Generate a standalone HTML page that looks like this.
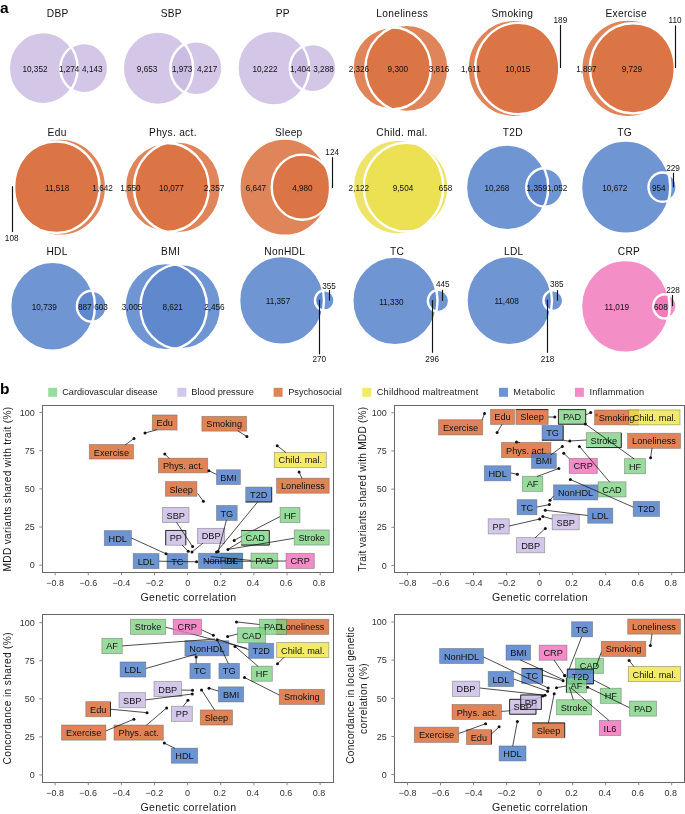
<!DOCTYPE html>
<html><head><meta charset="utf-8"><style>
html,body{margin:0;padding:0;background:#fff;}
svg{display:block;will-change:transform;}
text{font-family:"Liberation Sans", sans-serif;fill:#1a1a1a;}
.vt{font-size:10.2px;text-anchor:middle;letter-spacing:0.3px;fill:#111;}
.vn{font-size:8.2px;text-anchor:middle;fill:#111;}
.pl{font-size:15.5px;font-weight:bold;fill:#000;}
.lg{font-size:9.2px;}
.tk{font-size:9px;fill:#333;}
.ax{font-size:10.6px;letter-spacing:0.38px;}
.ay{font-size:10.2px;}
.bx{font-size:9.2px;fill:#111;}
</style></head><body>
<svg width="685" height="814" viewBox="0 0 685 814">
<defs>
<clipPath id="vc0"><ellipse cx="43.23" cy="68.15" rx="34.43" ry="36.05"/></clipPath>
<clipPath id="vc1"><ellipse cx="157.98" cy="68.25" rx="35.18" ry="36.65"/></clipPath>
<clipPath id="vc2"><ellipse cx="273.34" cy="68.10" rx="35.84" ry="37.30"/></clipPath>
<clipPath id="vc3"><ellipse cx="391.67" cy="68.30" rx="39.17" ry="41.12"/></clipPath>
<clipPath id="vc4"><ellipse cx="513.44" cy="68.50" rx="45.84" ry="48.60"/></clipPath>
<clipPath id="vc5"><ellipse cx="628.05" cy="68.35" rx="46.75" ry="48.85"/></clipPath>
<clipPath id="vc6"><ellipse cx="56.29" cy="187.20" rx="43.29" ry="45.75"/></clipPath>
<clipPath id="vc7"><ellipse cx="166.89" cy="187.45" rx="41.99" ry="44.47"/></clipPath>
<clipPath id="vc8"><ellipse cx="284.74" cy="187.20" rx="45.34" ry="48.60"/></clipPath>
<clipPath id="vc9"><ellipse cx="398.01" cy="187.20" rx="45.21" ry="47.30"/></clipPath>
<clipPath id="vc10"><ellipse cx="507.13" cy="187.40" rx="41.13" ry="42.80"/></clipPath>
<clipPath id="vc11"><ellipse cx="625.65" cy="187.15" rx="44.65" ry="46.65"/></clipPath>
<clipPath id="vc12"><ellipse cx="52.58" cy="306.20" rx="42.38" ry="44.40"/></clipPath>
<clipPath id="vc13"><ellipse cx="165.71" cy="306.65" rx="41.31" ry="43.55"/></clipPath>
<clipPath id="vc14"><ellipse cx="281.54" cy="300.40" rx="42.44" ry="44.40"/></clipPath>
<clipPath id="vc15"><ellipse cx="394.91" cy="300.85" rx="42.61" ry="44.35"/></clipPath>
<clipPath id="vc16"><ellipse cx="509.25" cy="300.60" rx="42.75" ry="44.60"/></clipPath>
<clipPath id="vc17"><ellipse cx="625.36" cy="306.35" rx="44.36" ry="46.35"/></clipPath>
</defs>
<ellipse cx="43.23" cy="68.15" rx="34.43" ry="36.05" fill="#D3C6E7"/>
<ellipse cx="84.21" cy="68.15" rx="23.89" ry="24.99" fill="#D3C6E7"/>
<ellipse cx="84.21" cy="68.15" rx="23.89" ry="24.99" fill="#CBBCE2" clip-path="url(#vc0)"/>
<ellipse cx="43.23" cy="68.15" rx="34.43" ry="36.05" fill="none" stroke="#fff" stroke-width="2.4"/>
<ellipse cx="84.21" cy="68.15" rx="23.89" ry="24.99" fill="none" stroke="#fff" stroke-width="2.4"/>
<text x="57.8" y="16.6" class="vt">DBP</text>
<text x="35" y="71.9" class="vn">10,352</text>
<text x="69.2" y="71.9" class="vn">1,274</text>
<text x="92.3" y="71.9" class="vn">4,143</text>
<ellipse cx="157.98" cy="68.25" rx="35.18" ry="36.65" fill="#D3C6E7"/>
<ellipse cx="196.40" cy="68.25" rx="26.00" ry="27.07" fill="#D3C6E7"/>
<ellipse cx="196.40" cy="68.25" rx="26.00" ry="27.07" fill="#CBBCE2" clip-path="url(#vc1)"/>
<ellipse cx="157.98" cy="68.25" rx="35.18" ry="36.65" fill="none" stroke="#fff" stroke-width="2.4"/>
<ellipse cx="196.40" cy="68.25" rx="26.00" ry="27.07" fill="none" stroke="#fff" stroke-width="2.4"/>
<text x="171.3" y="16.6" class="vt">SBP</text>
<text x="147.1" y="71.6" class="vn">9,653</text>
<text x="182.2" y="71.6" class="vn">1,973</text>
<text x="207.2" y="71.6" class="vn">4,217</text>
<ellipse cx="273.34" cy="68.10" rx="35.84" ry="37.30" fill="#D3C6E7"/>
<ellipse cx="313.00" cy="68.10" rx="23.20" ry="24.13" fill="#D3C6E7"/>
<ellipse cx="313.00" cy="68.10" rx="23.20" ry="24.13" fill="#CBBCE2" clip-path="url(#vc2)"/>
<ellipse cx="273.34" cy="68.10" rx="35.84" ry="37.30" fill="none" stroke="#fff" stroke-width="2.4"/>
<ellipse cx="313.00" cy="68.10" rx="23.20" ry="24.13" fill="none" stroke="#fff" stroke-width="2.4"/>
<text x="282.8" y="16.6" class="vt">PP</text>
<text x="265" y="71.6" class="vn">10,222</text>
<text x="300.3" y="71.6" class="vn">1,404</text>
<text x="323.5" y="71.6" class="vn">3,288</text>
<ellipse cx="391.67" cy="68.30" rx="39.17" ry="41.12" fill="#E0845A"/>
<ellipse cx="406.87" cy="68.30" rx="41.53" ry="43.60" fill="#E0845A"/>
<ellipse cx="406.87" cy="68.30" rx="41.53" ry="43.60" fill="#DC7545" clip-path="url(#vc3)"/>
<ellipse cx="391.67" cy="68.30" rx="39.17" ry="41.12" fill="none" stroke="#fff" stroke-width="2.4"/>
<ellipse cx="406.87" cy="68.30" rx="41.53" ry="43.60" fill="none" stroke="#fff" stroke-width="2.4"/>
<text x="402.2" y="16.6" class="vt">Loneliness</text>
<text x="358.9" y="71.9" class="vn">2,326</text>
<text x="397.8" y="71.9" class="vn">9,300</text>
<text x="439" y="71.9" class="vn">3,816</text>
<ellipse cx="513.44" cy="68.50" rx="45.84" ry="48.60" fill="#E0845A"/>
<ellipse cx="518.18" cy="68.50" rx="43.02" ry="45.61" fill="#E0845A"/>
<ellipse cx="518.18" cy="68.50" rx="43.02" ry="45.61" fill="#DC7545" clip-path="url(#vc4)"/>
<ellipse cx="513.44" cy="68.50" rx="45.84" ry="48.60" fill="none" stroke="#fff" stroke-width="2.4"/>
<ellipse cx="518.18" cy="68.50" rx="43.02" ry="45.61" fill="none" stroke="#fff" stroke-width="2.4"/>
<text x="512.4" y="16.6" class="vt">Smoking</text>
<text x="470.9" y="71.8" class="vn">1,611</text>
<text x="517.8" y="71.8" class="vn">10,015</text>
<line x1="560.5" y1="25" x2="560.5" y2="68" stroke="#111" stroke-width="1.15"/>
<text x="560.4" y="23.3" class="vn">189</text>
<ellipse cx="628.05" cy="68.35" rx="46.75" ry="48.85" fill="#E0845A"/>
<ellipse cx="633.10" cy="68.35" rx="43.10" ry="45.04" fill="#E0845A"/>
<ellipse cx="633.10" cy="68.35" rx="43.10" ry="45.04" fill="#DC7545" clip-path="url(#vc5)"/>
<ellipse cx="628.05" cy="68.35" rx="46.75" ry="48.85" fill="none" stroke="#fff" stroke-width="2.4"/>
<ellipse cx="633.10" cy="68.35" rx="43.10" ry="45.04" fill="none" stroke="#fff" stroke-width="2.4"/>
<text x="626.2" y="16.6" class="vt">Exercise</text>
<text x="586.4" y="71.9" class="vn">1,897</text>
<text x="631.9" y="71.9" class="vn">9,729</text>
<line x1="675.5" y1="25.4" x2="675.5" y2="68" stroke="#111" stroke-width="1.15"/>
<text x="675" y="23.1" class="vn">110</text>
<ellipse cx="56.29" cy="187.20" rx="43.29" ry="45.75" fill="#E0845A"/>
<ellipse cx="60.12" cy="187.20" rx="45.98" ry="48.60" fill="#E0845A"/>
<ellipse cx="60.12" cy="187.20" rx="45.98" ry="48.60" fill="#DC7545" clip-path="url(#vc6)"/>
<ellipse cx="56.29" cy="187.20" rx="43.29" ry="45.75" fill="none" stroke="#fff" stroke-width="2.4"/>
<ellipse cx="60.12" cy="187.20" rx="45.98" ry="48.60" fill="none" stroke="#fff" stroke-width="2.4"/>
<text x="57.1" y="136.4" class="vt">Edu</text>
<text x="57.2" y="191.0" class="vn">11,518</text>
<text x="102.6" y="191.0" class="vn">1,642</text>
<line x1="12.5" y1="186.2" x2="12.5" y2="232" stroke="#111" stroke-width="1.15"/>
<text x="11.7" y="241.0" class="vn">108</text>
<ellipse cx="166.89" cy="187.45" rx="41.99" ry="44.47" fill="#E0845A"/>
<ellipse cx="177.41" cy="187.45" rx="43.39" ry="45.95" fill="#E0845A"/>
<ellipse cx="177.41" cy="187.45" rx="43.39" ry="45.95" fill="#DC7545" clip-path="url(#vc7)"/>
<ellipse cx="166.89" cy="187.45" rx="41.99" ry="44.47" fill="none" stroke="#fff" stroke-width="2.4"/>
<ellipse cx="177.41" cy="187.45" rx="43.39" ry="45.95" fill="none" stroke="#fff" stroke-width="2.4"/>
<text x="172.9" y="136.4" class="vt">Phys. act.</text>
<text x="130.4" y="191.0" class="vn">1,550</text>
<text x="171.4" y="191.0" class="vn">10,077</text>
<text x="214" y="191.0" class="vn">2,357</text>
<ellipse cx="284.74" cy="187.20" rx="45.34" ry="48.60" fill="#E0845A"/>
<ellipse cx="302.16" cy="187.20" rx="30.44" ry="32.61" fill="#E0845A"/>
<ellipse cx="302.16" cy="187.20" rx="30.44" ry="32.61" fill="#DC7545" clip-path="url(#vc8)"/>
<ellipse cx="284.74" cy="187.20" rx="45.34" ry="48.60" fill="none" stroke="#fff" stroke-width="2.4"/>
<ellipse cx="302.16" cy="187.20" rx="30.44" ry="32.61" fill="none" stroke="#fff" stroke-width="2.4"/>
<text x="288.8" y="136.4" class="vt">Sleep</text>
<text x="255.9" y="191.0" class="vn">6,647</text>
<text x="302.4" y="191.0" class="vn">4,980</text>
<line x1="332.5" y1="157.2" x2="332.5" y2="188" stroke="#111" stroke-width="1.15"/>
<text x="332.2" y="155.3" class="vn">124</text>
<ellipse cx="398.01" cy="187.20" rx="45.21" ry="47.30" fill="#EEE46C"/>
<ellipse cx="406.05" cy="187.20" rx="42.35" ry="44.30" fill="#EEE46C"/>
<ellipse cx="406.05" cy="187.20" rx="42.35" ry="44.30" fill="#EBE153" clip-path="url(#vc9)"/>
<ellipse cx="398.01" cy="187.20" rx="45.21" ry="47.30" fill="none" stroke="#fff" stroke-width="2.4"/>
<ellipse cx="406.05" cy="187.20" rx="42.35" ry="44.30" fill="none" stroke="#fff" stroke-width="2.4"/>
<text x="402" y="136.4" class="vt">Child. mal.</text>
<text x="358.8" y="191.0" class="vn">2,122</text>
<text x="403" y="191.0" class="vn">9,504</text>
<text x="445.5" y="191.0" class="vn">658</text>
<ellipse cx="507.13" cy="187.40" rx="41.13" ry="42.80" fill="#6F96D2"/>
<ellipse cx="544.72" cy="187.40" rx="18.48" ry="19.21" fill="#6F96D2"/>
<ellipse cx="544.72" cy="187.40" rx="18.48" ry="19.21" fill="#6088CC" clip-path="url(#vc10)"/>
<ellipse cx="507.13" cy="187.40" rx="41.13" ry="42.80" fill="none" stroke="#fff" stroke-width="2.4"/>
<ellipse cx="544.72" cy="187.40" rx="18.48" ry="19.21" fill="none" stroke="#fff" stroke-width="2.4"/>
<text x="512.8" y="136.4" class="vt">T2D</text>
<text x="496.9" y="191.0" class="vn">10,268</text>
<text x="536.8" y="191.0" class="vn">1,359</text>
<text x="557.2" y="191.0" class="vn">1,052</text>
<ellipse cx="625.65" cy="187.15" rx="44.65" ry="46.65" fill="#6F96D2"/>
<ellipse cx="662.54" cy="187.15" rx="14.06" ry="14.65" fill="#6F96D2"/>
<ellipse cx="662.54" cy="187.15" rx="14.06" ry="14.65" fill="#6088CC" clip-path="url(#vc11)"/>
<ellipse cx="625.65" cy="187.15" rx="44.65" ry="46.65" fill="none" stroke="#fff" stroke-width="2.4"/>
<ellipse cx="662.54" cy="187.15" rx="14.06" ry="14.65" fill="none" stroke="#fff" stroke-width="2.4"/>
<text x="624.6" y="136.4" class="vt">TG</text>
<text x="614.8" y="190.5" class="vn">10,672</text>
<text x="658.8" y="190.5" class="vn">954</text>
<line x1="673.5" y1="172.7" x2="673.5" y2="187.2" stroke="#111" stroke-width="1.15"/>
<text x="673" y="170.9" class="vn">229</text>
<ellipse cx="52.58" cy="306.20" rx="42.38" ry="44.40" fill="#6F96D2"/>
<ellipse cx="91.76" cy="306.20" rx="14.84" ry="15.51" fill="#6F96D2"/>
<ellipse cx="91.76" cy="306.20" rx="14.84" ry="15.51" fill="#6088CC" clip-path="url(#vc12)"/>
<ellipse cx="52.58" cy="306.20" rx="42.38" ry="44.40" fill="none" stroke="#fff" stroke-width="2.4"/>
<ellipse cx="91.76" cy="306.20" rx="14.84" ry="15.51" fill="none" stroke="#fff" stroke-width="2.4"/>
<text x="57.1" y="254.7" class="vt">HDL</text>
<text x="44.3" y="309.7" class="vn">10,739</text>
<text x="84.8" y="309.7" class="vn">887</text>
<text x="101" y="309.7" class="vn">603</text>
<ellipse cx="165.71" cy="306.65" rx="41.31" ry="43.55" fill="#6F96D2"/>
<ellipse cx="180.75" cy="306.65" rx="40.35" ry="42.54" fill="#6F96D2"/>
<ellipse cx="180.75" cy="306.65" rx="40.35" ry="42.54" fill="#6088CC" clip-path="url(#vc13)"/>
<ellipse cx="165.71" cy="306.65" rx="41.31" ry="43.55" fill="none" stroke="#fff" stroke-width="2.4"/>
<ellipse cx="180.75" cy="306.65" rx="40.35" ry="42.54" fill="none" stroke="#fff" stroke-width="2.4"/>
<text x="170.6" y="254.7" class="vt">BMI</text>
<text x="132" y="309.7" class="vn">3,005</text>
<text x="172.7" y="309.7" class="vn">8,621</text>
<text x="214.4" y="309.7" class="vn">2,456</text>
<ellipse cx="281.54" cy="300.40" rx="42.44" ry="44.40" fill="#6F96D2"/>
<ellipse cx="324.74" cy="300.40" rx="9.76" ry="10.17" fill="#6F96D2"/>
<ellipse cx="324.74" cy="300.40" rx="9.76" ry="10.17" fill="#6088CC" clip-path="url(#vc14)"/>
<ellipse cx="281.54" cy="300.40" rx="42.44" ry="44.40" fill="none" stroke="#fff" stroke-width="2.4"/>
<ellipse cx="324.74" cy="300.40" rx="9.76" ry="10.17" fill="none" stroke="#fff" stroke-width="2.4"/>
<text x="284.8" y="254.7" class="vt">NonHDL</text>
<text x="278" y="304.1" class="vn">11,357</text>
<line x1="329.5" y1="290.1" x2="329.5" y2="300.6" stroke="#111" stroke-width="1.15"/>
<text x="329" y="289.1" class="vn">355</text>
<line x1="319.5" y1="299.8" x2="319.5" y2="354.4" stroke="#111" stroke-width="1.15"/>
<text x="319.3" y="361.5" class="vn">270</text>
<ellipse cx="394.91" cy="300.85" rx="42.61" ry="44.35" fill="#6F96D2"/>
<ellipse cx="438.50" cy="300.85" rx="10.60" ry="11.00" fill="#6F96D2"/>
<ellipse cx="438.50" cy="300.85" rx="10.60" ry="11.00" fill="#6088CC" clip-path="url(#vc15)"/>
<ellipse cx="394.91" cy="300.85" rx="42.61" ry="44.35" fill="none" stroke="#fff" stroke-width="2.4"/>
<ellipse cx="438.50" cy="300.85" rx="10.60" ry="11.00" fill="none" stroke="#fff" stroke-width="2.4"/>
<text x="397" y="254.7" class="vt">TC</text>
<text x="391.4" y="304.7" class="vn">11,330</text>
<line x1="442.5" y1="289.8" x2="442.5" y2="301" stroke="#111" stroke-width="1.15"/>
<text x="442.8" y="287.0" class="vn">445</text>
<line x1="432.5" y1="300.1" x2="432.5" y2="352.8" stroke="#111" stroke-width="1.15"/>
<text x="432.2" y="361.5" class="vn">296</text>
<ellipse cx="509.25" cy="300.60" rx="42.75" ry="44.60" fill="#6F96D2"/>
<ellipse cx="553.34" cy="300.60" rx="9.86" ry="10.25" fill="#6F96D2"/>
<ellipse cx="553.34" cy="300.60" rx="9.86" ry="10.25" fill="#6088CC" clip-path="url(#vc16)"/>
<ellipse cx="509.25" cy="300.60" rx="42.75" ry="44.60" fill="none" stroke="#fff" stroke-width="2.4"/>
<ellipse cx="553.34" cy="300.60" rx="9.86" ry="10.25" fill="none" stroke="#fff" stroke-width="2.4"/>
<text x="513.8" y="254.7" class="vt">LDL</text>
<text x="506.6" y="303.6" class="vn">11,408</text>
<line x1="557.5" y1="290.1" x2="557.5" y2="300.6" stroke="#111" stroke-width="1.15"/>
<text x="556.8" y="286.7" class="vn">385</text>
<line x1="547.5" y1="299.8" x2="547.5" y2="352.8" stroke="#111" stroke-width="1.15"/>
<text x="547.5" y="361.5" class="vn">218</text>
<ellipse cx="625.36" cy="306.35" rx="44.36" ry="46.35" fill="#F48EC6"/>
<ellipse cx="664.93" cy="306.35" rx="11.67" ry="12.16" fill="#F48EC6"/>
<ellipse cx="664.93" cy="306.35" rx="11.67" ry="12.16" fill="#F07CBB" clip-path="url(#vc17)"/>
<ellipse cx="625.36" cy="306.35" rx="44.36" ry="46.35" fill="none" stroke="#fff" stroke-width="2.4"/>
<ellipse cx="664.93" cy="306.35" rx="11.67" ry="12.16" fill="none" stroke="#fff" stroke-width="2.4"/>
<text x="629" y="254.7" class="vt">CRP</text>
<text x="616.8" y="310.0" class="vn">11,019</text>
<text x="660.9" y="310.0" class="vn">608</text>
<line x1="672.5" y1="295" x2="672.5" y2="306.2" stroke="#111" stroke-width="1.15"/>
<text x="673" y="292.8" class="vn">228</text>
<text x="0" y="13.2" class="pl">a</text>
<text x="0" y="393.8" class="pl">b</text>
<rect x="48.2" y="387.8" width="9" height="9" fill="#98DB9C"/>
<text x="62.2" y="395.3" class="lg" style="letter-spacing:0px">Cardiovascular disease</text>
<rect x="177.3" y="387.8" width="9" height="9" fill="#D4C8EA"/>
<text x="191.3" y="395.3" class="lg" style="letter-spacing:0.05px">Blood pressure</text>
<rect x="273.6" y="387.8" width="9" height="9" fill="#E08458"/>
<text x="288.2" y="395.3" class="lg" style="letter-spacing:0px">Psychosocial</text>
<rect x="362.3" y="387.8" width="9" height="9" fill="#F4EA6A"/>
<text x="376.8" y="395.3" class="lg" style="letter-spacing:0.19px">Childhood maltreatment</text>
<rect x="499" y="387.8" width="9" height="9" fill="#6C94D3"/>
<text x="513.3" y="395.3" class="lg" style="letter-spacing:0.3px">Metabolic</text>
<rect x="574.9" y="387.8" width="9" height="9" fill="#F28BC8"/>
<text x="589.5" y="395.3" class="lg" style="letter-spacing:0.18px">Inflammation</text>
<rect x="42.5" y="405.5" width="291.00" height="167.00" fill="none" stroke="#666" stroke-width="1"/>
<line x1="55.17" y1="572.5" x2="55.17" y2="575.3" stroke="#888" stroke-width="1"/>
<text x="55.17" y="586.3" class="tk" text-anchor="middle">−0.8</text>
<line x1="88.29" y1="572.5" x2="88.29" y2="575.3" stroke="#888" stroke-width="1"/>
<text x="88.29" y="586.3" class="tk" text-anchor="middle">−0.6</text>
<line x1="121.41" y1="572.5" x2="121.41" y2="575.3" stroke="#888" stroke-width="1"/>
<text x="121.41" y="586.3" class="tk" text-anchor="middle">−0.4</text>
<line x1="154.53" y1="572.5" x2="154.53" y2="575.3" stroke="#888" stroke-width="1"/>
<text x="154.53" y="586.3" class="tk" text-anchor="middle">−0.2</text>
<line x1="187.65" y1="572.5" x2="187.65" y2="575.3" stroke="#888" stroke-width="1"/>
<text x="187.65" y="586.3" class="tk" text-anchor="middle">0</text>
<line x1="220.77" y1="572.5" x2="220.77" y2="575.3" stroke="#888" stroke-width="1"/>
<text x="219.77" y="586.3" class="tk" text-anchor="middle">0.2</text>
<line x1="253.89" y1="572.5" x2="253.89" y2="575.3" stroke="#888" stroke-width="1"/>
<text x="252.89" y="586.3" class="tk" text-anchor="middle">0.4</text>
<line x1="287.01" y1="572.5" x2="287.01" y2="575.3" stroke="#888" stroke-width="1"/>
<text x="286.01" y="586.3" class="tk" text-anchor="middle">0.6</text>
<line x1="320.13" y1="572.5" x2="320.13" y2="575.3" stroke="#888" stroke-width="1"/>
<text x="319.13" y="586.3" class="tk" text-anchor="middle">0.8</text>
<line x1="39.3" y1="565.20" x2="42.5" y2="565.20" stroke="#888" stroke-width="1"/>
<text x="34.7" y="568.40" class="tk" text-anchor="end">0</text>
<line x1="39.3" y1="527.05" x2="42.5" y2="527.05" stroke="#888" stroke-width="1"/>
<text x="34.7" y="530.25" class="tk" text-anchor="end">25</text>
<line x1="39.3" y1="488.90" x2="42.5" y2="488.90" stroke="#888" stroke-width="1"/>
<text x="34.7" y="492.10" class="tk" text-anchor="end">50</text>
<line x1="39.3" y1="450.75" x2="42.5" y2="450.75" stroke="#888" stroke-width="1"/>
<text x="34.7" y="453.95" class="tk" text-anchor="end">75</text>
<line x1="39.3" y1="412.60" x2="42.5" y2="412.60" stroke="#888" stroke-width="1"/>
<text x="34.7" y="415.80" class="tk" text-anchor="end">100</text>
<text x="188.5" y="601.0" class="ax" text-anchor="middle">Genetic correlation</text>
<text transform="translate(10.6,489) rotate(-90)" class="ay" text-anchor="middle" style="letter-spacing:0.29px">MDD variants shared with trait (%)</text>
<line x1="280.1" y1="516.5" x2="234.3" y2="540.2" stroke="#111" stroke-width="0.75"/>
<rect x="89.3" y="444.45" width="44.2" height="14.6" fill="#D8652E" fill-opacity="0.8" stroke="rgba(90,90,90,0.5)" stroke-width="0.8"/>
<rect x="152.3" y="414.95" width="24.8" height="15.1" fill="#D8652E" fill-opacity="0.8" stroke="rgba(90,90,90,0.5)" stroke-width="0.8"/>
<rect x="201.9" y="416.35" width="44.7" height="14.8" fill="#D8652E" fill-opacity="0.8" stroke="rgba(90,90,90,0.5)" stroke-width="0.8"/>
<rect x="158.4" y="458.15" width="49.3" height="14.7" fill="#D8652E" fill-opacity="0.8" stroke="rgba(90,90,90,0.5)" stroke-width="0.8"/>
<rect x="216.5" y="469.75" width="23.9" height="14.8" fill="#4779C8" fill-opacity="0.8" stroke="rgba(90,90,90,0.5)" stroke-width="0.8"/>
<rect x="165.4" y="481.55" width="31.5" height="14.7" fill="#D8652E" fill-opacity="0.8" stroke="rgba(90,90,90,0.5)" stroke-width="0.8"/>
<rect x="274.3" y="452.35" width="52.0" height="15.1" fill="#F1E545" fill-opacity="0.8" stroke="rgba(90,90,90,0.5)" stroke-width="0.8"/>
<rect x="276.6" y="478.15" width="52.6" height="15.1" fill="#D8652E" fill-opacity="0.8" stroke="rgba(90,90,90,0.5)" stroke-width="0.8"/>
<rect x="245.7" y="487.05" width="26.0" height="15.1" fill="#4779C8" fill-opacity="0.8" stroke="rgba(90,90,90,0.5)" stroke-width="0.8"/>
<line x1="271.7" y1="487.3" x2="271.7" y2="501.9" stroke="#222" stroke-width="0.9"/>
<line x1="245.7" y1="501.9" x2="271.7" y2="501.9" stroke="#222" stroke-width="0.9"/>
<rect x="216.5" y="505.45" width="20.7" height="15.0" fill="#4779C8" fill-opacity="0.8" stroke="rgba(90,90,90,0.5)" stroke-width="0.8"/>
<rect x="162.5" y="507.45" width="26.5" height="15.1" fill="#C9BAE5" fill-opacity="0.8" stroke="rgba(90,90,90,0.5)" stroke-width="0.8"/>
<rect x="280.1" y="507.45" width="19.9" height="15.1" fill="#7ED283" fill-opacity="0.8" stroke="rgba(90,90,90,0.5)" stroke-width="0.8"/>
<rect x="165.7" y="530.25" width="20.1" height="15.0" fill="#C9BAE5" fill-opacity="0.8" stroke="rgba(90,90,90,0.5)" stroke-width="0.8"/>
<line x1="165.7" y1="530.5" x2="185.8" y2="530.5" stroke="#222" stroke-width="0.9"/>
<line x1="165.7" y1="530.5" x2="165.7" y2="545.0" stroke="#222" stroke-width="0.9"/>
<line x1="185.8" y1="530.5" x2="185.8" y2="545.0" stroke="#222" stroke-width="0.9"/>
<rect x="197.5" y="528.35" width="27.2" height="15.1" fill="#C9BAE5" fill-opacity="0.8" stroke="rgba(90,90,90,0.5)" stroke-width="0.8"/>
<rect x="241.3" y="530.25" width="28.0" height="15.0" fill="#7ED283" fill-opacity="0.8" stroke="rgba(90,90,90,0.5)" stroke-width="0.8"/>
<line x1="241.3" y1="530.5" x2="269.3" y2="530.5" stroke="#222" stroke-width="0.9"/>
<line x1="241.3" y1="545.0" x2="269.3" y2="545.0" stroke="#222" stroke-width="0.9"/>
<line x1="269.3" y1="530.5" x2="269.3" y2="545.0" stroke="#222" stroke-width="0.9"/>
<rect x="294.2" y="529.95" width="35.0" height="15.1" fill="#7ED283" fill-opacity="0.8" stroke="rgba(90,90,90,0.5)" stroke-width="0.8"/>
<rect x="104.3" y="530.55" width="27.1" height="15.1" fill="#4779C8" fill-opacity="0.8" stroke="rgba(90,90,90,0.5)" stroke-width="0.8"/>
<rect x="133.2" y="553.55" width="25.8" height="15.1" fill="#4779C8" fill-opacity="0.8" stroke="rgba(90,90,90,0.5)" stroke-width="0.8"/>
<rect x="167" y="553.55" width="20.7" height="15.1" fill="#4779C8" fill-opacity="0.8" stroke="rgba(90,90,90,0.5)" stroke-width="0.8"/>
<rect x="221.3" y="553.25" width="21.4" height="15.3" fill="#7ED283" fill-opacity="0.8" stroke="rgba(90,90,90,0.5)" stroke-width="0.8"/>
<rect x="198.5" y="553.25" width="44.0" height="15.3" fill="#4779C8" fill-opacity="0.8" stroke="rgba(90,90,90,0.5)" stroke-width="0.8"/>
<rect x="251" y="553.15" width="26.8" height="15.1" fill="#7ED283" fill-opacity="0.8" stroke="rgba(90,90,90,0.5)" stroke-width="0.8"/>
<rect x="286" y="553.35" width="28.3" height="15.1" fill="#EF6EBA" fill-opacity="0.8" stroke="rgba(90,90,90,0.5)" stroke-width="0.8"/>
<line x1="125.3" y1="444.7" x2="134" y2="438.6" stroke="#111" stroke-width="0.75"/>
<line x1="156.9" y1="429.8" x2="145" y2="433" stroke="#111" stroke-width="0.75"/>
<line x1="237.8" y1="430.9" x2="246.9" y2="436.5" stroke="#111" stroke-width="0.75"/>
<line x1="169.2" y1="458.4" x2="164.8" y2="454" stroke="#111" stroke-width="0.75"/>
<line x1="216.5" y1="474.5" x2="208.9" y2="470.7" stroke="#111" stroke-width="0.75"/>
<line x1="286" y1="452.6" x2="277.2" y2="445.8" stroke="#111" stroke-width="0.75"/>
<line x1="302" y1="478.4" x2="299.1" y2="472.1" stroke="#111" stroke-width="0.75"/>
<line x1="197.5" y1="493.4" x2="203.4" y2="501.3" stroke="#111" stroke-width="0.75"/>
<line x1="257.7" y1="501.9" x2="216.5" y2="552.1" stroke="#111" stroke-width="0.75"/>
<line x1="226.4" y1="520.2" x2="218.2" y2="551.5" stroke="#111" stroke-width="0.75"/>
<line x1="176.5" y1="522.3" x2="192.6" y2="546.6" stroke="#111" stroke-width="0.75"/>
<line x1="182" y1="545" x2="188.2" y2="551.3" stroke="#111" stroke-width="0.75"/>
<line x1="202.8" y1="543.2" x2="192" y2="552" stroke="#111" stroke-width="0.75"/>
<line x1="241.4" y1="541.2" x2="227.9" y2="549.4" stroke="#111" stroke-width="0.75"/>
<line x1="293.9" y1="538.3" x2="227.9" y2="549.4" stroke="#111" stroke-width="0.75"/>
<line x1="131.4" y1="538" x2="166" y2="553.8" stroke="#111" stroke-width="0.75"/>
<line x1="159" y1="561.2" x2="196.6" y2="561.8" stroke="#111" stroke-width="0.75"/>
<line x1="251" y1="560.4" x2="210.6" y2="556.6" stroke="#111" stroke-width="0.75"/>
<line x1="286" y1="561" x2="205" y2="561.5" stroke="#111" stroke-width="0.75"/>
<circle cx="134" cy="438.6" r="1.5" fill="#111"/>
<circle cx="145" cy="433" r="1.5" fill="#111"/>
<circle cx="246.9" cy="436.5" r="1.5" fill="#111"/>
<circle cx="164.8" cy="454" r="1.5" fill="#111"/>
<circle cx="208.9" cy="470.7" r="1.5" fill="#111"/>
<circle cx="277.2" cy="445.8" r="1.5" fill="#111"/>
<circle cx="299.1" cy="472.1" r="1.5" fill="#111"/>
<circle cx="203.4" cy="501.3" r="1.5" fill="#111"/>
<circle cx="216.5" cy="552.1" r="1.5" fill="#111"/>
<circle cx="218.2" cy="551.5" r="1.5" fill="#111"/>
<circle cx="192.6" cy="546.6" r="1.5" fill="#111"/>
<circle cx="227.9" cy="549.4" r="1.5" fill="#111"/>
<circle cx="188.2" cy="551.3" r="1.5" fill="#111"/>
<circle cx="192" cy="552" r="1.5" fill="#111"/>
<circle cx="234.2" cy="540.4" r="1.5" fill="#111"/>
<circle cx="166" cy="553.8" r="1.5" fill="#111"/>
<circle cx="196.6" cy="561.8" r="1.5" fill="#111"/>
<text x="111.4" y="455.5" class="bx" text-anchor="middle">Exercise</text>
<text x="164.7" y="426.0" class="bx" text-anchor="middle">Edu</text>
<text x="224.2" y="427.4" class="bx" text-anchor="middle">Smoking</text>
<text x="183.1" y="469.2" class="bx" text-anchor="middle">Phys. act.</text>
<text x="228.4" y="480.8" class="bx" text-anchor="middle">BMI</text>
<text x="181.2" y="492.6" class="bx" text-anchor="middle">Sleep</text>
<text x="300.3" y="463.4" class="bx" text-anchor="middle">Child. mal.</text>
<text x="302.9" y="489.2" class="bx" text-anchor="middle">Loneliness</text>
<text x="258.7" y="498.1" class="bx" text-anchor="middle">T2D</text>
<text x="226.8" y="516.5" class="bx" text-anchor="middle">TG</text>
<text x="175.8" y="518.5" class="bx" text-anchor="middle">SBP</text>
<text x="290.1" y="518.5" class="bx" text-anchor="middle">HF</text>
<text x="175.8" y="541.3" class="bx" text-anchor="middle">PP</text>
<text x="211.1" y="539.4" class="bx" text-anchor="middle">DBP</text>
<text x="255.3" y="541.3" class="bx" text-anchor="middle">CAD</text>
<text x="311.7" y="541.0" class="bx" text-anchor="middle">Stroke</text>
<text x="117.8" y="541.6" class="bx" text-anchor="middle">HDL</text>
<text x="146.1" y="564.6" class="bx" text-anchor="middle">LDL</text>
<text x="177.3" y="564.6" class="bx" text-anchor="middle">TC</text>
<text x="232.0" y="564.3" class="bx" text-anchor="middle">AF</text>
<text x="220.5" y="564.3" class="bx" text-anchor="middle">NonHDL</text>
<text x="264.4" y="564.2" class="bx" text-anchor="middle">PAD</text>
<text x="300.1" y="564.4" class="bx" text-anchor="middle">CRP</text>
<rect x="394.5" y="405.5" width="290.00" height="167.00" fill="none" stroke="#666" stroke-width="1"/>
<line x1="407.52" y1="572.5" x2="407.52" y2="575.3" stroke="#888" stroke-width="1"/>
<text x="407.52" y="586.3" class="tk" text-anchor="middle">−0.8</text>
<line x1="440.54" y1="572.5" x2="440.54" y2="575.3" stroke="#888" stroke-width="1"/>
<text x="440.54" y="586.3" class="tk" text-anchor="middle">−0.6</text>
<line x1="473.56" y1="572.5" x2="473.56" y2="575.3" stroke="#888" stroke-width="1"/>
<text x="473.56" y="586.3" class="tk" text-anchor="middle">−0.4</text>
<line x1="506.58" y1="572.5" x2="506.58" y2="575.3" stroke="#888" stroke-width="1"/>
<text x="506.58" y="586.3" class="tk" text-anchor="middle">−0.2</text>
<line x1="539.60" y1="572.5" x2="539.60" y2="575.3" stroke="#888" stroke-width="1"/>
<text x="539.60" y="586.3" class="tk" text-anchor="middle">0</text>
<line x1="572.62" y1="572.5" x2="572.62" y2="575.3" stroke="#888" stroke-width="1"/>
<text x="571.62" y="586.3" class="tk" text-anchor="middle">0.2</text>
<line x1="605.64" y1="572.5" x2="605.64" y2="575.3" stroke="#888" stroke-width="1"/>
<text x="604.64" y="586.3" class="tk" text-anchor="middle">0.4</text>
<line x1="638.66" y1="572.5" x2="638.66" y2="575.3" stroke="#888" stroke-width="1"/>
<text x="637.66" y="586.3" class="tk" text-anchor="middle">0.6</text>
<line x1="671.68" y1="572.5" x2="671.68" y2="575.3" stroke="#888" stroke-width="1"/>
<text x="670.68" y="586.3" class="tk" text-anchor="middle">0.8</text>
<line x1="391.3" y1="565.40" x2="394.5" y2="565.40" stroke="#888" stroke-width="1"/>
<text x="386.7" y="568.60" class="tk" text-anchor="end">0</text>
<line x1="391.3" y1="527.25" x2="394.5" y2="527.25" stroke="#888" stroke-width="1"/>
<text x="386.7" y="530.45" class="tk" text-anchor="end">25</text>
<line x1="391.3" y1="489.10" x2="394.5" y2="489.10" stroke="#888" stroke-width="1"/>
<text x="386.7" y="492.30" class="tk" text-anchor="end">50</text>
<line x1="391.3" y1="450.95" x2="394.5" y2="450.95" stroke="#888" stroke-width="1"/>
<text x="386.7" y="454.15" class="tk" text-anchor="end">75</text>
<line x1="391.3" y1="412.80" x2="394.5" y2="412.80" stroke="#888" stroke-width="1"/>
<text x="386.7" y="416.00" class="tk" text-anchor="end">100</text>
<text x="540.0" y="601.0" class="ax" text-anchor="middle">Genetic correlation</text>
<text transform="translate(365.8,489) rotate(-90)" class="ay" text-anchor="middle" style="letter-spacing:0.2px">Trait variants shared with MDD (%)</text>
<circle cx="596.5" cy="415" r="1.5" fill="#111"/>
<rect x="438.5" y="419.75" width="44.2" height="15.2" fill="#D8652E" fill-opacity="0.8" stroke="rgba(90,90,90,0.5)" stroke-width="0.8"/>
<rect x="490.5" y="409.35" width="24.0" height="15.1" fill="#D8652E" fill-opacity="0.8" stroke="rgba(90,90,90,0.5)" stroke-width="0.8"/>
<rect x="515.9" y="409.35" width="32.3" height="15.1" fill="#D8652E" fill-opacity="0.8" stroke="rgba(90,90,90,0.5)" stroke-width="0.8"/>
<line x1="515.9" y1="409.6" x2="548.2" y2="409.6" stroke="#222" stroke-width="0.9"/>
<rect x="558.4" y="409.35" width="27.3" height="15.1" fill="#7ED283" fill-opacity="0.8" stroke="rgba(90,90,90,0.5)" stroke-width="0.8"/>
<line x1="558.4" y1="409.6" x2="585.7" y2="409.6" stroke="#222" stroke-width="0.9"/>
<line x1="558.4" y1="409.6" x2="558.4" y2="424.2" stroke="#222" stroke-width="0.9"/>
<line x1="558.4" y1="424.2" x2="585.7" y2="424.2" stroke="#222" stroke-width="0.9"/>
<line x1="585.7" y1="409.6" x2="585.7" y2="424.2" stroke="#222" stroke-width="0.9"/>
<rect x="594.6" y="409.95" width="44.0" height="14.9" fill="#D8652E" fill-opacity="0.8" stroke="rgba(90,90,90,0.5)" stroke-width="0.8"/>
<rect x="628.8" y="409.95" width="51.2" height="14.9" fill="#F1E545" fill-opacity="0.8" stroke="rgba(90,90,90,0.5)" stroke-width="0.8"/>
<rect x="542" y="425.35" width="21.2" height="15.1" fill="#4779C8" fill-opacity="0.8" stroke="rgba(90,90,90,0.5)" stroke-width="0.8"/>
<line x1="563.2" y1="425.6" x2="563.2" y2="440.2" stroke="#222" stroke-width="0.9"/>
<line x1="542" y1="440.2" x2="563.2" y2="440.2" stroke="#222" stroke-width="0.9"/>
<rect x="586.3" y="432.65" width="35.0" height="15.1" fill="#7ED283" fill-opacity="0.8" stroke="rgba(90,90,90,0.5)" stroke-width="0.8"/>
<line x1="621.3" y1="432.9" x2="621.3" y2="447.5" stroke="#222" stroke-width="0.9"/>
<line x1="586.3" y1="447.5" x2="621.3" y2="447.5" stroke="#222" stroke-width="0.9"/>
<rect x="627.6" y="433.25" width="52.9" height="15.1" fill="#D8652E" fill-opacity="0.8" stroke="rgba(90,90,90,0.5)" stroke-width="0.8"/>
<rect x="501.5" y="442.45" width="49.4" height="15.1" fill="#D8652E" fill-opacity="0.8" stroke="rgba(90,90,90,0.5)" stroke-width="0.8"/>
<rect x="531.5" y="453.25" width="24.8" height="15.1" fill="#4779C8" fill-opacity="0.8" stroke="rgba(90,90,90,0.5)" stroke-width="0.8"/>
<rect x="569.2" y="458.35" width="28.1" height="15.1" fill="#EF6EBA" fill-opacity="0.8" stroke="rgba(90,90,90,0.5)" stroke-width="0.8"/>
<rect x="624.6" y="458.65" width="20.9" height="15.1" fill="#7ED283" fill-opacity="0.8" stroke="rgba(90,90,90,0.5)" stroke-width="0.8"/>
<rect x="484.3" y="465.75" width="26.5" height="15.1" fill="#4779C8" fill-opacity="0.8" stroke="rgba(90,90,90,0.5)" stroke-width="0.8"/>
<rect x="522.4" y="476.25" width="20.4" height="15.1" fill="#7ED283" fill-opacity="0.8" stroke="rgba(90,90,90,0.5)" stroke-width="0.8"/>
<rect x="553.5" y="484.85" width="44.2" height="15.1" fill="#4779C8" fill-opacity="0.8" stroke="rgba(90,90,90,0.5)" stroke-width="0.8"/>
<rect x="598.1" y="481.85" width="27.9" height="15.1" fill="#7ED283" fill-opacity="0.8" stroke="rgba(90,90,90,0.5)" stroke-width="0.8"/>
<rect x="633.2" y="501.35" width="26.4" height="15.1" fill="#4779C8" fill-opacity="0.8" stroke="rgba(90,90,90,0.5)" stroke-width="0.8"/>
<rect x="517.1" y="499.65" width="19.8" height="15.1" fill="#4779C8" fill-opacity="0.8" stroke="rgba(90,90,90,0.5)" stroke-width="0.8"/>
<rect x="587.7" y="508.15" width="25.1" height="15.1" fill="#4779C8" fill-opacity="0.8" stroke="rgba(90,90,90,0.5)" stroke-width="0.8"/>
<rect x="552.2" y="514.75" width="27.0" height="15.1" fill="#C9BAE5" fill-opacity="0.8" stroke="rgba(90,90,90,0.5)" stroke-width="0.8"/>
<rect x="488.2" y="518.85" width="21.0" height="15.1" fill="#C9BAE5" fill-opacity="0.8" stroke="rgba(90,90,90,0.5)" stroke-width="0.8"/>
<rect x="516.5" y="537.65" width="28.2" height="15.1" fill="#C9BAE5" fill-opacity="0.8" stroke="rgba(90,90,90,0.5)" stroke-width="0.8"/>
<line x1="482.2" y1="420" x2="484.5" y2="413.4" stroke="#111" stroke-width="0.75"/>
<line x1="502.1" y1="424.2" x2="497.1" y2="432.6" stroke="#111" stroke-width="0.75"/>
<line x1="548.2" y1="417" x2="554.8" y2="417" stroke="#111" stroke-width="0.75"/>
<line x1="585.7" y1="415" x2="590.7" y2="412.6" stroke="#111" stroke-width="0.75"/>
<line x1="634.1" y1="458.9" x2="585.4" y2="424" stroke="#111" stroke-width="0.75"/>
<line x1="586.3" y1="440" x2="569.8" y2="441" stroke="#111" stroke-width="0.75"/>
<line x1="520" y1="442.7" x2="516.5" y2="441.9" stroke="#111" stroke-width="0.75"/>
<line x1="551" y1="454.8" x2="562.3" y2="446.4" stroke="#111" stroke-width="0.75"/>
<line x1="563.2" y1="440.2" x2="569.8" y2="441.4" stroke="#111" stroke-width="0.75"/>
<line x1="569.2" y1="458.6" x2="563.8" y2="453.3" stroke="#111" stroke-width="0.75"/>
<line x1="652" y1="448.1" x2="650.6" y2="457.8" stroke="#111" stroke-width="0.75"/>
<line x1="510.8" y1="473" x2="517.4" y2="474.2" stroke="#111" stroke-width="0.75"/>
<line x1="536.9" y1="476.5" x2="558.8" y2="468.5" stroke="#111" stroke-width="0.75"/>
<line x1="609.7" y1="482.1" x2="579.4" y2="446.4" stroke="#111" stroke-width="0.75"/>
<line x1="633.2" y1="507.1" x2="570.4" y2="479.5" stroke="#111" stroke-width="0.75"/>
<line x1="553.5" y1="496" x2="550" y2="500.2" stroke="#111" stroke-width="0.75"/>
<line x1="536.9" y1="507" x2="549.4" y2="504.6" stroke="#111" stroke-width="0.75"/>
<line x1="587.7" y1="515.5" x2="545.3" y2="510.2" stroke="#111" stroke-width="0.75"/>
<line x1="552.2" y1="519" x2="542.8" y2="516.5" stroke="#111" stroke-width="0.75"/>
<line x1="509.2" y1="526" x2="539.7" y2="519" stroke="#111" stroke-width="0.75"/>
<line x1="535" y1="537.9" x2="545.3" y2="528.4" stroke="#111" stroke-width="0.75"/>
<circle cx="484.5" cy="413.4" r="1.5" fill="#111"/>
<circle cx="497.1" cy="432.6" r="1.5" fill="#111"/>
<circle cx="554.8" cy="417" r="1.5" fill="#111"/>
<circle cx="590.7" cy="412.6" r="1.5" fill="#111"/>
<circle cx="585.4" cy="424" r="1.5" fill="#111"/>
<circle cx="569.8" cy="441" r="1.5" fill="#111"/>
<circle cx="516.5" cy="441.9" r="1.5" fill="#111"/>
<circle cx="562.3" cy="446.4" r="1.5" fill="#111"/>
<circle cx="563.8" cy="453.3" r="1.5" fill="#111"/>
<circle cx="650.6" cy="457.8" r="1.5" fill="#111"/>
<circle cx="517.4" cy="474.2" r="1.5" fill="#111"/>
<circle cx="558.8" cy="468.5" r="1.5" fill="#111"/>
<circle cx="579.4" cy="446.4" r="1.5" fill="#111"/>
<circle cx="570.4" cy="479.5" r="1.5" fill="#111"/>
<circle cx="550" cy="500.2" r="1.5" fill="#111"/>
<circle cx="549.4" cy="504.6" r="1.5" fill="#111"/>
<circle cx="545.3" cy="510.2" r="1.5" fill="#111"/>
<circle cx="542.8" cy="516.5" r="1.5" fill="#111"/>
<circle cx="539.7" cy="519" r="1.5" fill="#111"/>
<circle cx="545.3" cy="528.4" r="1.5" fill="#111"/>
<text x="460.6" y="430.8" class="bx" text-anchor="middle">Exercise</text>
<text x="502.5" y="420.4" class="bx" text-anchor="middle">Edu</text>
<text x="532.0" y="420.4" class="bx" text-anchor="middle">Sleep</text>
<text x="572.0" y="420.4" class="bx" text-anchor="middle">PAD</text>
<text x="616.6" y="421.0" class="bx" text-anchor="middle">Smoking</text>
<text x="654.4" y="421.0" class="bx" text-anchor="middle">Child. mal.</text>
<text x="552.6" y="436.4" class="bx" text-anchor="middle">TG</text>
<text x="603.8" y="443.7" class="bx" text-anchor="middle">Stroke</text>
<text x="654.0" y="444.3" class="bx" text-anchor="middle">Loneliness</text>
<text x="526.2" y="453.5" class="bx" text-anchor="middle">Phys. act.</text>
<text x="543.9" y="464.3" class="bx" text-anchor="middle">BMI</text>
<text x="583.2" y="469.4" class="bx" text-anchor="middle">CRP</text>
<text x="635.0" y="469.7" class="bx" text-anchor="middle">HF</text>
<text x="497.6" y="476.8" class="bx" text-anchor="middle">HDL</text>
<text x="532.6" y="487.3" class="bx" text-anchor="middle">AF</text>
<text x="575.6" y="495.9" class="bx" text-anchor="middle">NonHDL</text>
<text x="612.0" y="492.9" class="bx" text-anchor="middle">CAD</text>
<text x="646.4" y="512.4" class="bx" text-anchor="middle">T2D</text>
<text x="527.0" y="510.7" class="bx" text-anchor="middle">TC</text>
<text x="600.2" y="519.2" class="bx" text-anchor="middle">LDL</text>
<text x="565.7" y="525.8" class="bx" text-anchor="middle">SBP</text>
<text x="498.7" y="529.9" class="bx" text-anchor="middle">PP</text>
<text x="530.6" y="548.7" class="bx" text-anchor="middle">DBP</text>
<rect x="42.5" y="614.5" width="291.00" height="168.00" fill="none" stroke="#666" stroke-width="1"/>
<line x1="55.12" y1="782.5" x2="55.12" y2="785.3" stroke="#888" stroke-width="1"/>
<text x="55.12" y="796.3" class="tk" text-anchor="middle">−0.8</text>
<line x1="88.24" y1="782.5" x2="88.24" y2="785.3" stroke="#888" stroke-width="1"/>
<text x="88.24" y="796.3" class="tk" text-anchor="middle">−0.6</text>
<line x1="121.36" y1="782.5" x2="121.36" y2="785.3" stroke="#888" stroke-width="1"/>
<text x="121.36" y="796.3" class="tk" text-anchor="middle">−0.4</text>
<line x1="154.48" y1="782.5" x2="154.48" y2="785.3" stroke="#888" stroke-width="1"/>
<text x="154.48" y="796.3" class="tk" text-anchor="middle">−0.2</text>
<line x1="187.60" y1="782.5" x2="187.60" y2="785.3" stroke="#888" stroke-width="1"/>
<text x="187.60" y="796.3" class="tk" text-anchor="middle">0</text>
<line x1="220.72" y1="782.5" x2="220.72" y2="785.3" stroke="#888" stroke-width="1"/>
<text x="219.72" y="796.3" class="tk" text-anchor="middle">0.2</text>
<line x1="253.84" y1="782.5" x2="253.84" y2="785.3" stroke="#888" stroke-width="1"/>
<text x="252.84" y="796.3" class="tk" text-anchor="middle">0.4</text>
<line x1="286.96" y1="782.5" x2="286.96" y2="785.3" stroke="#888" stroke-width="1"/>
<text x="285.96" y="796.3" class="tk" text-anchor="middle">0.6</text>
<line x1="320.08" y1="782.5" x2="320.08" y2="785.3" stroke="#888" stroke-width="1"/>
<text x="319.08" y="796.3" class="tk" text-anchor="middle">0.8</text>
<line x1="39.3" y1="775.00" x2="42.5" y2="775.00" stroke="#888" stroke-width="1"/>
<text x="34.7" y="778.20" class="tk" text-anchor="end">0</text>
<line x1="39.3" y1="736.92" x2="42.5" y2="736.92" stroke="#888" stroke-width="1"/>
<text x="34.7" y="740.12" class="tk" text-anchor="end">25</text>
<line x1="39.3" y1="698.85" x2="42.5" y2="698.85" stroke="#888" stroke-width="1"/>
<text x="34.7" y="702.05" class="tk" text-anchor="end">50</text>
<line x1="39.3" y1="660.78" x2="42.5" y2="660.78" stroke="#888" stroke-width="1"/>
<text x="34.7" y="663.98" class="tk" text-anchor="end">75</text>
<line x1="39.3" y1="622.70" x2="42.5" y2="622.70" stroke="#888" stroke-width="1"/>
<text x="34.7" y="625.90" class="tk" text-anchor="end">100</text>
<text x="188.5" y="811.0" class="ax" text-anchor="middle">Genetic correlation</text>
<text transform="translate(10.6,698.3) rotate(-90)" class="ay" text-anchor="middle" style="letter-spacing:0.34px">Concordance in shared (%)</text>
<line x1="165.7" y1="627.2" x2="247" y2="648.4" stroke="#111" stroke-width="0.75"/>
<rect x="130.4" y="619.25" width="35.3" height="15.1" fill="#7ED283" fill-opacity="0.8" stroke="rgba(90,90,90,0.5)" stroke-width="0.8"/>
<rect x="173.2" y="619.25" width="28.3" height="15.1" fill="#EF6EBA" fill-opacity="0.8" stroke="rgba(90,90,90,0.5)" stroke-width="0.8"/>
<rect x="276.2" y="619.25" width="52.6" height="15.1" fill="#D8652E" fill-opacity="0.8" stroke="rgba(90,90,90,0.5)" stroke-width="0.8"/>
<rect x="259.4" y="619.25" width="27.3" height="15.1" fill="#7ED283" fill-opacity="0.8" stroke="rgba(90,90,90,0.5)" stroke-width="0.8"/>
<rect x="237.5" y="627.75" width="28.1" height="15.1" fill="#7ED283" fill-opacity="0.8" stroke="rgba(90,90,90,0.5)" stroke-width="0.8"/>
<rect x="101.9" y="638.35" width="20.3" height="15.3" fill="#7ED283" fill-opacity="0.8" stroke="rgba(90,90,90,0.5)" stroke-width="0.8"/>
<rect x="184.9" y="640.75" width="43.9" height="15.1" fill="#4779C8" fill-opacity="0.8" stroke="rgba(90,90,90,0.5)" stroke-width="0.8"/>
<rect x="248.7" y="643.25" width="25.0" height="15.1" fill="#4779C8" fill-opacity="0.8" stroke="rgba(90,90,90,0.5)" stroke-width="0.8"/>
<rect x="276.7" y="642.45" width="52.1" height="15.1" fill="#F1E545" fill-opacity="0.8" stroke="rgba(90,90,90,0.5)" stroke-width="0.8"/>
<rect x="120.1" y="661.95" width="25.7" height="15.1" fill="#4779C8" fill-opacity="0.8" stroke="rgba(90,90,90,0.5)" stroke-width="0.8"/>
<rect x="189.9" y="663.35" width="20.3" height="15.3" fill="#4779C8" fill-opacity="0.8" stroke="rgba(90,90,90,0.5)" stroke-width="0.8"/>
<rect x="218.9" y="663.35" width="20.6" height="15.3" fill="#4779C8" fill-opacity="0.8" stroke="rgba(90,90,90,0.5)" stroke-width="0.8"/>
<rect x="251.4" y="666.15" width="20.9" height="15.1" fill="#7ED283" fill-opacity="0.8" stroke="rgba(90,90,90,0.5)" stroke-width="0.8"/>
<rect x="154" y="681.55" width="27.5" height="15.1" fill="#C9BAE5" fill-opacity="0.8" stroke="rgba(90,90,90,0.5)" stroke-width="0.8"/>
<rect x="119" y="692.65" width="26.6" height="15.1" fill="#C9BAE5" fill-opacity="0.8" stroke="rgba(90,90,90,0.5)" stroke-width="0.8"/>
<rect x="218.4" y="686.85" width="25.3" height="15.1" fill="#4779C8" fill-opacity="0.8" stroke="rgba(90,90,90,0.5)" stroke-width="0.8"/>
<rect x="279.2" y="689.35" width="45.2" height="15.1" fill="#D8652E" fill-opacity="0.8" stroke="rgba(90,90,90,0.5)" stroke-width="0.8"/>
<rect x="85.8" y="701.65" width="24.7" height="15.1" fill="#D8652E" fill-opacity="0.8" stroke="rgba(90,90,90,0.5)" stroke-width="0.8"/>
<line x1="110.5" y1="701.9" x2="110.5" y2="716.5" stroke="#222" stroke-width="0.9"/>
<rect x="171.5" y="706.25" width="20.8" height="15.1" fill="#C9BAE5" fill-opacity="0.8" stroke="rgba(90,90,90,0.5)" stroke-width="0.8"/>
<rect x="200.3" y="709.95" width="32.2" height="15.1" fill="#D8652E" fill-opacity="0.8" stroke="rgba(90,90,90,0.5)" stroke-width="0.8"/>
<rect x="61.5" y="725.05" width="44.4" height="15.1" fill="#D8652E" fill-opacity="0.8" stroke="rgba(90,90,90,0.5)" stroke-width="0.8"/>
<rect x="114" y="725.05" width="49.3" height="15.1" fill="#D8652E" fill-opacity="0.8" stroke="rgba(90,90,90,0.5)" stroke-width="0.8"/>
<rect x="171.3" y="748.15" width="26.4" height="15.1" fill="#4779C8" fill-opacity="0.8" stroke="rgba(90,90,90,0.5)" stroke-width="0.8"/>
<line x1="201.5" y1="629.8" x2="213.4" y2="635.3" stroke="#111" stroke-width="0.75"/>
<line x1="259.4" y1="624.5" x2="236.5" y2="621.9" stroke="#111" stroke-width="0.75"/>
<line x1="237.5" y1="634" x2="227.6" y2="636.5" stroke="#111" stroke-width="0.75"/>
<line x1="122.2" y1="645.9" x2="215" y2="639" stroke="#111" stroke-width="0.75"/>
<line x1="145.8" y1="668.5" x2="196.5" y2="654" stroke="#111" stroke-width="0.75"/>
<line x1="248.7" y1="649.7" x2="217.9" y2="639.3" stroke="#111" stroke-width="0.75"/>
<line x1="284" y1="657.3" x2="277.5" y2="663.8" stroke="#111" stroke-width="0.75"/>
<line x1="196.1" y1="663.6" x2="196.1" y2="657.1" stroke="#111" stroke-width="0.75"/>
<line x1="228.3" y1="663.6" x2="217.2" y2="639.7" stroke="#111" stroke-width="0.75"/>
<line x1="258.1" y1="666.4" x2="235" y2="646.4" stroke="#111" stroke-width="0.75"/>
<line x1="279.2" y1="695" x2="244.5" y2="677.5" stroke="#111" stroke-width="0.75"/>
<line x1="218.4" y1="691" x2="209" y2="688.2" stroke="#111" stroke-width="0.75"/>
<line x1="214.7" y1="710.2" x2="201.5" y2="689.9" stroke="#111" stroke-width="0.75"/>
<line x1="181.5" y1="690" x2="192.5" y2="690.3" stroke="#111" stroke-width="0.75"/>
<line x1="145.6" y1="699.9" x2="192.3" y2="694" stroke="#111" stroke-width="0.75"/>
<line x1="110.5" y1="709.2" x2="147" y2="712.7" stroke="#111" stroke-width="0.75"/>
<line x1="183" y1="706.5" x2="187.9" y2="700.3" stroke="#111" stroke-width="0.75"/>
<line x1="105.9" y1="730.9" x2="133.9" y2="719.2" stroke="#111" stroke-width="0.75"/>
<line x1="146.3" y1="725.3" x2="166.6" y2="708" stroke="#111" stroke-width="0.75"/>
<line x1="175" y1="748.4" x2="164.3" y2="743.1" stroke="#111" stroke-width="0.75"/>
<circle cx="213.4" cy="635.3" r="1.5" fill="#111"/>
<circle cx="236.5" cy="621.9" r="1.5" fill="#111"/>
<circle cx="227.6" cy="636.5" r="1.5" fill="#111"/>
<circle cx="277.5" cy="663.8" r="1.5" fill="#111"/>
<circle cx="196.1" cy="657.1" r="1.5" fill="#111"/>
<circle cx="217.2" cy="639.7" r="1.5" fill="#111"/>
<circle cx="235" cy="646.4" r="1.5" fill="#111"/>
<circle cx="244.5" cy="677.5" r="1.5" fill="#111"/>
<circle cx="209" cy="688.2" r="1.5" fill="#111"/>
<circle cx="201.5" cy="689.9" r="1.5" fill="#111"/>
<circle cx="192.5" cy="690.3" r="1.5" fill="#111"/>
<circle cx="192.3" cy="694" r="1.5" fill="#111"/>
<circle cx="147" cy="712.7" r="1.5" fill="#111"/>
<circle cx="187.9" cy="700.3" r="1.5" fill="#111"/>
<circle cx="133.9" cy="719.2" r="1.5" fill="#111"/>
<circle cx="166.6" cy="708" r="1.5" fill="#111"/>
<circle cx="164.3" cy="743.1" r="1.5" fill="#111"/>
<text x="148.1" y="630.3" class="bx" text-anchor="middle">Stroke</text>
<text x="187.3" y="630.3" class="bx" text-anchor="middle">CRP</text>
<text x="302.5" y="630.3" class="bx" text-anchor="middle">Loneliness</text>
<text x="273.0" y="630.3" class="bx" text-anchor="middle">PAD</text>
<text x="251.6" y="638.8" class="bx" text-anchor="middle">CAD</text>
<text x="112.1" y="649.4" class="bx" text-anchor="middle">AF</text>
<text x="206.9" y="651.8" class="bx" text-anchor="middle">NonHDL</text>
<text x="261.2" y="654.3" class="bx" text-anchor="middle">T2D</text>
<text x="302.8" y="653.5" class="bx" text-anchor="middle">Child. mal.</text>
<text x="132.9" y="673.0" class="bx" text-anchor="middle">LDL</text>
<text x="200.1" y="674.4" class="bx" text-anchor="middle">TC</text>
<text x="229.2" y="674.4" class="bx" text-anchor="middle">TG</text>
<text x="261.9" y="677.2" class="bx" text-anchor="middle">HF</text>
<text x="167.8" y="692.6" class="bx" text-anchor="middle">DBP</text>
<text x="132.3" y="703.7" class="bx" text-anchor="middle">SBP</text>
<text x="231.1" y="697.9" class="bx" text-anchor="middle">BMI</text>
<text x="301.8" y="700.4" class="bx" text-anchor="middle">Smoking</text>
<text x="98.2" y="712.7" class="bx" text-anchor="middle">Edu</text>
<text x="181.9" y="717.3" class="bx" text-anchor="middle">PP</text>
<text x="216.4" y="721.0" class="bx" text-anchor="middle">Sleep</text>
<text x="83.7" y="736.1" class="bx" text-anchor="middle">Exercise</text>
<text x="138.7" y="736.1" class="bx" text-anchor="middle">Phys. act.</text>
<text x="184.5" y="759.2" class="bx" text-anchor="middle">HDL</text>
<rect x="394.5" y="614.5" width="290.00" height="168.00" fill="none" stroke="#666" stroke-width="1"/>
<line x1="407.52" y1="782.5" x2="407.52" y2="785.3" stroke="#888" stroke-width="1"/>
<text x="407.52" y="796.3" class="tk" text-anchor="middle">−0.8</text>
<line x1="440.54" y1="782.5" x2="440.54" y2="785.3" stroke="#888" stroke-width="1"/>
<text x="440.54" y="796.3" class="tk" text-anchor="middle">−0.6</text>
<line x1="473.56" y1="782.5" x2="473.56" y2="785.3" stroke="#888" stroke-width="1"/>
<text x="473.56" y="796.3" class="tk" text-anchor="middle">−0.4</text>
<line x1="506.58" y1="782.5" x2="506.58" y2="785.3" stroke="#888" stroke-width="1"/>
<text x="506.58" y="796.3" class="tk" text-anchor="middle">−0.2</text>
<line x1="539.60" y1="782.5" x2="539.60" y2="785.3" stroke="#888" stroke-width="1"/>
<text x="539.60" y="796.3" class="tk" text-anchor="middle">0</text>
<line x1="572.62" y1="782.5" x2="572.62" y2="785.3" stroke="#888" stroke-width="1"/>
<text x="571.62" y="796.3" class="tk" text-anchor="middle">0.2</text>
<line x1="605.64" y1="782.5" x2="605.64" y2="785.3" stroke="#888" stroke-width="1"/>
<text x="604.64" y="796.3" class="tk" text-anchor="middle">0.4</text>
<line x1="638.66" y1="782.5" x2="638.66" y2="785.3" stroke="#888" stroke-width="1"/>
<text x="637.66" y="796.3" class="tk" text-anchor="middle">0.6</text>
<line x1="671.68" y1="782.5" x2="671.68" y2="785.3" stroke="#888" stroke-width="1"/>
<text x="670.68" y="796.3" class="tk" text-anchor="middle">0.8</text>
<line x1="391.3" y1="774.60" x2="394.5" y2="774.60" stroke="#888" stroke-width="1"/>
<text x="386.7" y="777.80" class="tk" text-anchor="end">0</text>
<line x1="391.3" y1="736.45" x2="394.5" y2="736.45" stroke="#888" stroke-width="1"/>
<text x="386.7" y="739.65" class="tk" text-anchor="end">25</text>
<line x1="391.3" y1="698.30" x2="394.5" y2="698.30" stroke="#888" stroke-width="1"/>
<text x="386.7" y="701.50" class="tk" text-anchor="end">50</text>
<line x1="391.3" y1="660.15" x2="394.5" y2="660.15" stroke="#888" stroke-width="1"/>
<text x="386.7" y="663.35" class="tk" text-anchor="end">75</text>
<line x1="391.3" y1="622.00" x2="394.5" y2="622.00" stroke="#888" stroke-width="1"/>
<text x="386.7" y="625.20" class="tk" text-anchor="end">100</text>
<text x="540.0" y="811.0" class="ax" text-anchor="middle">Genetic correlation</text>
<text transform="translate(353.8,695.2) rotate(-90)" class="ay" text-anchor="middle" style="letter-spacing:0.23px">Concordance in local genetic</text>
<text transform="translate(366.9,698.5) rotate(-90)" class="ay" text-anchor="middle" style="letter-spacing:0.32px">correlation (%)</text>
<line x1="509.6" y1="710.8" x2="542.9" y2="696" stroke="#111" stroke-width="0.75"/>
<rect x="571.6" y="621.75" width="21.0" height="15.1" fill="#4779C8" fill-opacity="0.8" stroke="rgba(90,90,90,0.5)" stroke-width="0.8"/>
<rect x="627.7" y="619.05" width="52.7" height="15.1" fill="#D8652E" fill-opacity="0.8" stroke="rgba(90,90,90,0.5)" stroke-width="0.8"/>
<rect x="439.6" y="648.45" width="43.9" height="15.1" fill="#4779C8" fill-opacity="0.8" stroke="rgba(90,90,90,0.5)" stroke-width="0.8"/>
<rect x="506" y="645.05" width="24.6" height="15.1" fill="#4779C8" fill-opacity="0.8" stroke="rgba(90,90,90,0.5)" stroke-width="0.8"/>
<rect x="539.2" y="645.15" width="27.8" height="15.1" fill="#EF6EBA" fill-opacity="0.8" stroke="rgba(90,90,90,0.5)" stroke-width="0.8"/>
<rect x="601.3" y="641.35" width="44.5" height="15.1" fill="#D8652E" fill-opacity="0.8" stroke="rgba(90,90,90,0.5)" stroke-width="0.8"/>
<rect x="575.6" y="658.25" width="27.8" height="15.1" fill="#7ED283" fill-opacity="0.8" stroke="rgba(90,90,90,0.5)" stroke-width="0.8"/>
<rect x="628.3" y="666.45" width="52.1" height="15.1" fill="#F1E545" fill-opacity="0.8" stroke="rgba(90,90,90,0.5)" stroke-width="0.8"/>
<rect x="488.2" y="671.45" width="25.4" height="15.1" fill="#4779C8" fill-opacity="0.8" stroke="rgba(90,90,90,0.5)" stroke-width="0.8"/>
<rect x="521.7" y="668.35" width="20.7" height="15.1" fill="#4779C8" fill-opacity="0.8" stroke="rgba(90,90,90,0.5)" stroke-width="0.8"/>
<line x1="521.7" y1="668.6" x2="542.4" y2="668.6" stroke="#222" stroke-width="0.9"/>
<line x1="542.4" y1="668.6" x2="542.4" y2="683.2" stroke="#222" stroke-width="0.9"/>
<rect x="567.3" y="668.95" width="26.2" height="15.1" fill="#4779C8" fill-opacity="0.8" stroke="rgba(90,90,90,0.5)" stroke-width="0.8"/>
<line x1="567.3" y1="669.2" x2="593.5" y2="669.2" stroke="#222" stroke-width="0.9"/>
<line x1="567.3" y1="669.2" x2="567.3" y2="683.8" stroke="#222" stroke-width="0.9"/>
<line x1="567.3" y1="683.8" x2="593.5" y2="683.8" stroke="#222" stroke-width="0.9"/>
<line x1="593.5" y1="669.2" x2="593.5" y2="683.8" stroke="#222" stroke-width="0.9"/>
<rect x="566.4" y="677.65" width="20.0" height="15.1" fill="#7ED283" fill-opacity="0.8" stroke="rgba(90,90,90,0.5)" stroke-width="0.8"/>
<line x1="566.4" y1="677.9" x2="566.4" y2="692.5" stroke="#222" stroke-width="0.9"/>
<rect x="452.4" y="681.15" width="27.3" height="15.3" fill="#C9BAE5" fill-opacity="0.8" stroke="rgba(90,90,90,0.5)" stroke-width="0.8"/>
<rect x="600.3" y="688.25" width="20.9" height="15.1" fill="#7ED283" fill-opacity="0.8" stroke="rgba(90,90,90,0.5)" stroke-width="0.8"/>
<rect x="509.6" y="699.15" width="26.4" height="15.3" fill="#C9BAE5" fill-opacity="0.8" stroke="rgba(90,90,90,0.5)" stroke-width="0.8"/>
<line x1="509.6" y1="699.4" x2="536" y2="699.4" stroke="#222" stroke-width="0.9"/>
<line x1="509.6" y1="699.4" x2="509.6" y2="714.2" stroke="#222" stroke-width="0.9"/>
<line x1="509.6" y1="714.2" x2="536" y2="714.2" stroke="#222" stroke-width="0.9"/>
<line x1="536" y1="699.4" x2="536" y2="714.2" stroke="#222" stroke-width="0.9"/>
<rect x="520.7" y="694.75" width="20.7" height="14.9" fill="#C9BAE5" fill-opacity="0.8" stroke="rgba(90,90,90,0.5)" stroke-width="0.8"/>
<line x1="520.7" y1="695.0" x2="541.4" y2="695.0" stroke="#222" stroke-width="0.9"/>
<line x1="520.7" y1="695.0" x2="520.7" y2="709.4" stroke="#222" stroke-width="0.9"/>
<line x1="520.7" y1="709.4" x2="541.4" y2="709.4" stroke="#222" stroke-width="0.9"/>
<line x1="541.4" y1="695.0" x2="541.4" y2="709.4" stroke="#222" stroke-width="0.9"/>
<rect x="556.5" y="699.75" width="35.1" height="15.1" fill="#7ED283" fill-opacity="0.8" stroke="rgba(90,90,90,0.5)" stroke-width="0.8"/>
<rect x="629.4" y="701.05" width="27.1" height="15.1" fill="#7ED283" fill-opacity="0.8" stroke="rgba(90,90,90,0.5)" stroke-width="0.8"/>
<rect x="452" y="704.45" width="49.5" height="15.1" fill="#D8652E" fill-opacity="0.8" stroke="rgba(90,90,90,0.5)" stroke-width="0.8"/>
<rect x="599.3" y="720.45" width="21.5" height="15.1" fill="#EF6EBA" fill-opacity="0.8" stroke="rgba(90,90,90,0.5)" stroke-width="0.8"/>
<rect x="532.5" y="722.75" width="32.2" height="15.1" fill="#D8652E" fill-opacity="0.8" stroke="rgba(90,90,90,0.5)" stroke-width="0.8"/>
<line x1="532.5" y1="723.0" x2="564.7" y2="723.0" stroke="#222" stroke-width="0.9"/>
<line x1="564.7" y1="723.0" x2="564.7" y2="737.6" stroke="#222" stroke-width="0.9"/>
<rect x="414.3" y="727.15" width="44.4" height="15.3" fill="#D8652E" fill-opacity="0.8" stroke="rgba(90,90,90,0.5)" stroke-width="0.8"/>
<rect x="466.4" y="729.65" width="25.0" height="14.9" fill="#D8652E" fill-opacity="0.8" stroke="rgba(90,90,90,0.5)" stroke-width="0.8"/>
<line x1="491.4" y1="729.9" x2="491.4" y2="744.3" stroke="#222" stroke-width="0.9"/>
<rect x="499.1" y="745.95" width="26.9" height="15.0" fill="#4779C8" fill-opacity="0.8" stroke="rgba(90,90,90,0.5)" stroke-width="0.8"/>
<line x1="652" y1="633.9" x2="650.4" y2="645.5" stroke="#111" stroke-width="0.75"/>
<line x1="634" y1="666.7" x2="629.1" y2="660.4" stroke="#111" stroke-width="0.75"/>
<line x1="458.7" y1="733.5" x2="485.6" y2="723.7" stroke="#111" stroke-width="0.75"/>
<line x1="491.4" y1="734" x2="499.1" y2="726.8" stroke="#111" stroke-width="0.75"/>
<line x1="512.7" y1="746.2" x2="517.4" y2="721.4" stroke="#111" stroke-width="0.75"/>
<line x1="548.4" y1="723" x2="554.2" y2="693.7" stroke="#111" stroke-width="0.75"/>
<line x1="554" y1="660" x2="564.8" y2="675.8" stroke="#111" stroke-width="0.75"/>
<line x1="581.8" y1="636.6" x2="568.9" y2="669.8" stroke="#111" stroke-width="0.75"/>
<line x1="601.3" y1="652.3" x2="595.9" y2="667.1" stroke="#111" stroke-width="0.75"/>
<line x1="483.5" y1="656.9" x2="548.2" y2="688" stroke="#111" stroke-width="0.75"/>
<line x1="520.2" y1="659.9" x2="564" y2="680" stroke="#111" stroke-width="0.75"/>
<line x1="513.6" y1="679" x2="547.6" y2="691.2" stroke="#111" stroke-width="0.75"/>
<line x1="479.7" y1="688" x2="545" y2="695.2" stroke="#111" stroke-width="0.75"/>
<line x1="501.5" y1="711.4" x2="509.6" y2="710.8" stroke="#111" stroke-width="0.75"/>
<line x1="629.4" y1="707.7" x2="587.6" y2="687.2" stroke="#111" stroke-width="0.75"/>
<line x1="573.4" y1="700" x2="569.4" y2="687.2" stroke="#111" stroke-width="0.75"/>
<line x1="609.1" y1="720.7" x2="571.7" y2="688.4" stroke="#111" stroke-width="0.75"/>
<line x1="556.5" y1="687.7" x2="566.4" y2="686" stroke="#111" stroke-width="0.75"/>
<line x1="610" y1="688.5" x2="593.5" y2="680" stroke="#111" stroke-width="0.75"/>
<line x1="542.4" y1="675" x2="563.1" y2="680.7" stroke="#111" stroke-width="0.75"/>
<circle cx="650.4" cy="645.5" r="1.5" fill="#111"/>
<circle cx="629.1" cy="660.4" r="1.5" fill="#111"/>
<circle cx="485.6" cy="723.7" r="1.5" fill="#111"/>
<circle cx="499.1" cy="726.8" r="1.5" fill="#111"/>
<circle cx="517.4" cy="721.4" r="1.5" fill="#111"/>
<circle cx="554.2" cy="693.7" r="1.5" fill="#111"/>
<circle cx="564.8" cy="675.8" r="1.5" fill="#111"/>
<circle cx="556.5" cy="687.7" r="1.5" fill="#111"/>
<circle cx="563.1" cy="680.7" r="1.5" fill="#111"/>
<circle cx="564.7" cy="675.5" r="1.5" fill="#111"/>
<circle cx="587.6" cy="687.2" r="1.5" fill="#111"/>
<circle cx="548.2" cy="688" r="1.5" fill="#111"/>
<circle cx="547.6" cy="691.2" r="1.5" fill="#111"/>
<circle cx="545" cy="695.2" r="1.5" fill="#111"/>
<circle cx="542.9" cy="696" r="1.5" fill="#111"/>
<text x="582.1" y="632.8" class="bx" text-anchor="middle">TG</text>
<text x="654.0" y="630.1" class="bx" text-anchor="middle">Loneliness</text>
<text x="461.6" y="659.5" class="bx" text-anchor="middle">NonHDL</text>
<text x="518.3" y="656.1" class="bx" text-anchor="middle">BMI</text>
<text x="553.1" y="656.2" class="bx" text-anchor="middle">CRP</text>
<text x="623.5" y="652.4" class="bx" text-anchor="middle">Smoking</text>
<text x="589.5" y="669.3" class="bx" text-anchor="middle">CAD</text>
<text x="654.3" y="677.5" class="bx" text-anchor="middle">Child. mal.</text>
<text x="500.9" y="682.5" class="bx" text-anchor="middle">LDL</text>
<text x="532.0" y="679.4" class="bx" text-anchor="middle">TC</text>
<text x="580.4" y="680.0" class="bx" text-anchor="middle">T2D</text>
<text x="576.4" y="688.7" class="bx" text-anchor="middle">AF</text>
<text x="466.0" y="692.2" class="bx" text-anchor="middle">DBP</text>
<text x="610.8" y="699.3" class="bx" text-anchor="middle">HF</text>
<text x="522.8" y="710.2" class="bx" text-anchor="middle">SBP</text>
<text x="531.0" y="705.8" class="bx" text-anchor="middle">PP</text>
<text x="574.0" y="710.8" class="bx" text-anchor="middle">Stroke</text>
<text x="643.0" y="712.1" class="bx" text-anchor="middle">PAD</text>
<text x="476.8" y="715.5" class="bx" text-anchor="middle">Phys. act.</text>
<text x="610.0" y="731.5" class="bx" text-anchor="middle">IL6</text>
<text x="548.6" y="733.8" class="bx" text-anchor="middle">Sleep</text>
<text x="436.5" y="738.2" class="bx" text-anchor="middle">Exercise</text>
<text x="478.9" y="740.7" class="bx" text-anchor="middle">Edu</text>
<text x="512.5" y="757.0" class="bx" text-anchor="middle">HDL</text>
</svg>
</body></html>
